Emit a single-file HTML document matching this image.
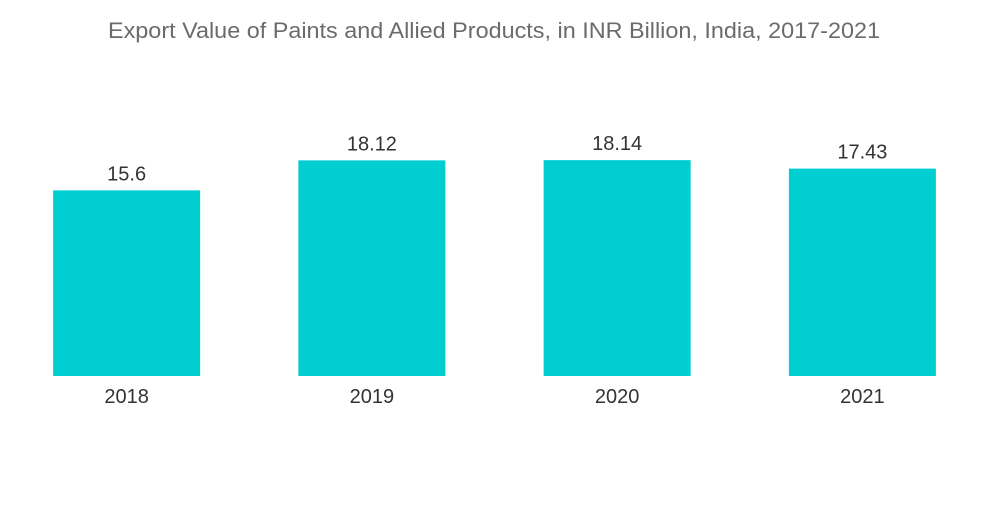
<!DOCTYPE html>
<html><head><meta charset="utf-8"><style>
html,body{margin:0;padding:0;background:#fff;}
body{width:1000px;height:504px;overflow:hidden;font-family:"Liberation Sans",sans-serif;}
</style></head><body>
<svg id="chart" width="1000" height="504" xmlns="http://www.w3.org/2000/svg">
<text x="108" y="38" textLength="772" lengthAdjust="spacingAndGlyphs" font-family="Liberation Sans, sans-serif" font-size="22" fill="#6b6b6b">Export Value of Paints and Allied Products, in INR Billion, India, 2017-2021</text>
<g id="bars"></g>
</svg>
<script>
const categories = ["2018","2019","2020","2021"];
const values = [15.6, 18.12, 18.14, 17.43];
const valueLabels = ["15.6","18.12","18.14","17.43"];

const svg = document.getElementById('bars');
const NS = "http://www.w3.org/2000/svg";
const x0 = 4, x1 = 985, baseY = 376, pxPerUnit = 11.9;
const band = (x1 - x0) / categories.length;
const barW = 147;
function xScale(i){ return x0 + band * i + band / 2; }
function yScale(v){ return baseY - v * pxPerUnit; }

categories.forEach((c, i) => {
  const cx = xScale(i);
  const y = yScale(values[i]);
  const r = document.createElementNS(NS, 'rect');
  
  
  r.setAttribute('x', cx - barW / 2);
  r.setAttribute('y', y);
  r.setAttribute('width', barW);
  r.setAttribute('height', baseY - y);
  r.setAttribute('fill', '#00ced1');
  svg.appendChild(r);

  const t = document.createElementNS(NS, 'text');
  
  
  t.setAttribute('x', cx);
  t.setAttribute('y', y - 10);
  t.setAttribute('text-anchor', 'middle');
  t.setAttribute('font-size', '20');
  t.setAttribute('fill', '#333');
  t.textContent = valueLabels[i];
  svg.appendChild(t);

  const l = document.createElementNS(NS, 'text');
  
  
  l.setAttribute('x', cx);
  l.setAttribute('y', 403);
  l.setAttribute('text-anchor', 'middle');
  l.setAttribute('font-size', '20');
  l.setAttribute('fill', '#333');
  l.textContent = c;
  svg.appendChild(l);
});
</script>
</body></html>
